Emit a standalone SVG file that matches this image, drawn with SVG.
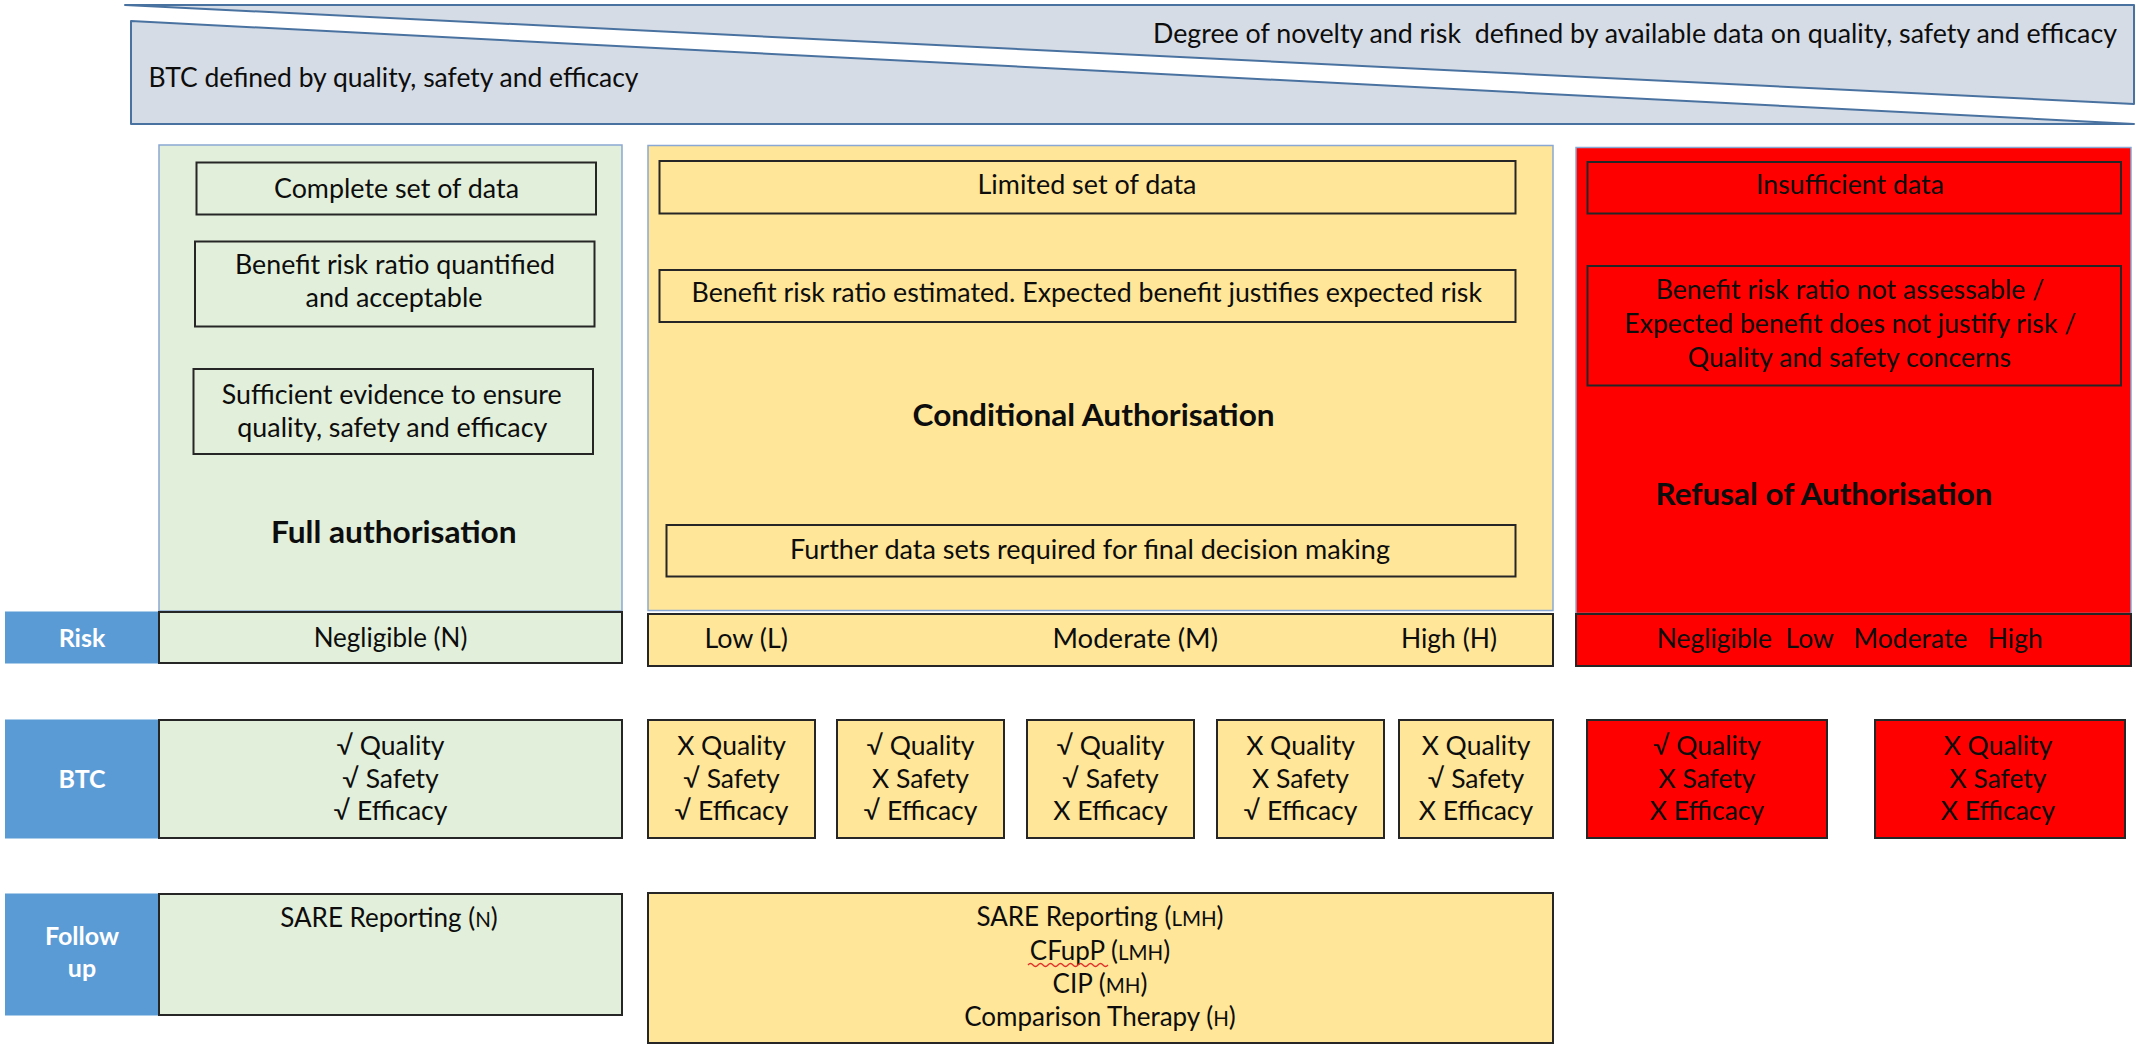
<svg xmlns="http://www.w3.org/2000/svg" width="2136" height="1044" viewBox="0 0 2136 1044">
  <style>
    .t { font-family: Lato, "Liberation Sans", sans-serif; font-size: 26px; fill: #0d0d0d; }
    .m { text-anchor: middle; }
    .b { font-weight: bold; font-size: 30px; }
    .q { font-size: 26.5px; text-anchor: middle; }
    .sc { font-size: 20.5px; }
    .lbl { font-family: Lato, "Liberation Sans", sans-serif; font-weight: bold; font-size: 25px; fill: #ffffff; text-anchor: middle; }
    .band { fill: #D6DCE5; stroke: #4A72A0; stroke-width: 2; stroke-linejoin: round; }
    .pg { fill: #E2EFDA; stroke: #8AA8D4; stroke-width: 1.5; }
    .py { fill: #FFE699; stroke: #8AA8D4; stroke-width: 1.5; }
    .pr { fill: #FF0000; stroke: #8AA8D4; stroke-width: 1.5; }
    .box { fill: none; stroke: #262626; stroke-width: 2; }
    .cg { fill: #E2EFDA; stroke: #262626; stroke-width: 2; }
    .cy { fill: #FFE699; stroke: #262626; stroke-width: 2; }
    .cr { fill: #FF0000; stroke: #262626; stroke-width: 2; }
    .lb { fill: #5B9BD5; stroke: #5B9BD5; stroke-width: 1; }
  </style>

  <!-- header wedges -->
  <g id="header">
    <path class="band" d="M125,5 L2134,5 L2134,104 Z"/>
    <path class="band" d="M131,21 L2134,124 L131,124 Z"/>
    <text class="t" x="1153" y="43" textLength="964" lengthAdjust="spacingAndGlyphs" xml:space="preserve">Degree of novelty and risk  defined by available data on quality, safety and efficacy</text>
    <text class="t" x="148.5" y="87" textLength="490" lengthAdjust="spacingAndGlyphs">BTC defined by quality, safety and efficacy</text>
  </g>

  <!-- full authorisation column -->
  <g id="full-authorisation">
    <rect class="pg" x="159" y="145" width="463" height="466"/>
    <rect class="box" x="196.5" y="162.5" width="399.5" height="52"/>
    <text class="t m" x="396.5" y="198.3" textLength="245" lengthAdjust="spacingAndGlyphs">Complete set of data</text>
    <rect class="box" x="195" y="241.5" width="399.5" height="85"/>
    <text class="t m" x="395" y="274.3" textLength="320" lengthAdjust="spacingAndGlyphs">Benefit risk ratio quantified</text>
    <text class="t m" x="394" y="307" textLength="177" lengthAdjust="spacingAndGlyphs">and acceptable</text>
    <rect class="box" x="193.5" y="369" width="399.5" height="85"/>
    <text class="t m" x="391.7" y="404" textLength="340" lengthAdjust="spacingAndGlyphs">Sufficient evidence to ensure</text>
    <text class="t m" x="392.3" y="436.5" textLength="310" lengthAdjust="spacingAndGlyphs">quality, safety and efficacy</text>
    <text class="t m b" x="393.8" y="543.3" textLength="245.7" lengthAdjust="spacingAndGlyphs">Full authorisation</text>
  </g>

  <!-- conditional authorisation column -->
  <g id="conditional-authorisation">
    <rect class="py" x="648" y="145.5" width="905" height="465"/>
    <rect class="box" x="659.5" y="161" width="856" height="52.5"/>
    <text class="t m" x="1087" y="194.4" textLength="219" lengthAdjust="spacingAndGlyphs">Limited set of data</text>
    <rect class="box" x="659.5" y="270" width="856" height="52"/>
    <text class="t m" x="1086.8" y="302.2" textLength="790.5" lengthAdjust="spacingAndGlyphs">Benefit risk ratio estimated. Expected benefit justifies expected risk</text>
    <text class="t m b" x="1093.6" y="425.5" textLength="362" lengthAdjust="spacingAndGlyphs">Conditional Authorisation</text>
    <rect class="box" x="666.5" y="525" width="849" height="51.5"/>
    <text class="t m" x="1090" y="558.7" textLength="600" lengthAdjust="spacingAndGlyphs">Further data sets required for final decision making</text>
  </g>

  <!-- refusal column -->
  <g id="refusal-of-authorisation">
    <rect class="pr" x="1576" y="147.5" width="555" height="466"/>
    <rect class="box" x="1587.5" y="162" width="533.5" height="51.5"/>
    <text class="t m" x="1850" y="194.4" textLength="188" lengthAdjust="spacingAndGlyphs">Insufficient data</text>
    <rect class="box" x="1587.5" y="266" width="533.5" height="119.5"/>
    <text class="t m" x="1850" y="299.4" textLength="388.7" lengthAdjust="spacingAndGlyphs">Benefit risk ratio not assessable /</text>
    <text class="t m" x="1850.3" y="332.8" textLength="452" lengthAdjust="spacingAndGlyphs">Expected benefit does not justify risk /</text>
    <text class="t m" x="1849.5" y="366.5" textLength="323.3" lengthAdjust="spacingAndGlyphs">Quality and safety concerns</text>
    <text class="t m b" x="1824" y="505.3" textLength="337" lengthAdjust="spacingAndGlyphs">Refusal of Authorisation</text>
  </g>

  <!-- risk row -->
  <g id="risk-label">
    <rect class="lb" x="5.5" y="612" width="153.5" height="51"/>
    <text class="lbl" x="82" y="646.5">Risk</text>
  </g>
  <g id="risk-full">
    <rect class="cg" x="159" y="612" width="463" height="51"/>
    <text class="t m" x="390.5" y="646.5">Negligible (N)</text>
  </g>
  <g id="risk-conditional">
    <rect class="cy" x="648" y="614" width="905" height="52"/>
    <text class="t" x="704.5" y="647.5" textLength="83.5" lengthAdjust="spacingAndGlyphs">Low (L)</text>
    <text class="t" x="1052.5" y="647.5" textLength="165.5" lengthAdjust="spacingAndGlyphs">Moderate (M)</text>
    <text class="t" x="1401" y="647.5" textLength="96" lengthAdjust="spacingAndGlyphs">High (H)</text>
  </g>
  <g id="risk-refusal">
    <rect class="cr" x="1576" y="614" width="555" height="52"/>
    <text class="t" x="1656.7" y="648" textLength="386" lengthAdjust="spacingAndGlyphs" xml:space="preserve">Negligible  Low   Moderate   High</text>
  </g>

  <!-- BTC row -->
  <g id="btc-label">
    <rect class="lb" x="5.5" y="720" width="153.5" height="118"/>
    <text class="lbl" x="82" y="787.5">BTC</text>
  </g>
  <g id="btc-full">
    <rect class="cg" x="159" y="720" width="463" height="118"/>
    <text class="t q" x="390.5" y="754.5">√ Quality</text>
    <text class="t q" x="390.5" y="787.5">√ Safety</text>
    <text class="t q" x="390.5" y="820">√ Efficacy</text>
  </g>
  <g id="btc-conditional-1">
    <rect class="cy" x="648" y="720" width="167" height="118"/>
    <text class="t q" x="731.5" y="754.5">X Quality</text>
    <text class="t q" x="731.5" y="787.5">√ Safety</text>
    <text class="t q" x="731.5" y="820">√ Efficacy</text>
  </g>
  <g id="btc-conditional-2">
    <rect class="cy" x="837" y="720" width="167" height="118"/>
    <text class="t q" x="920.5" y="754.5">√ Quality</text>
    <text class="t q" x="920.5" y="787.5">X Safety</text>
    <text class="t q" x="920.5" y="820">√ Efficacy</text>
  </g>
  <g id="btc-conditional-3">
    <rect class="cy" x="1027" y="720" width="167" height="118"/>
    <text class="t q" x="1110.5" y="754.5">√ Quality</text>
    <text class="t q" x="1110.5" y="787.5">√ Safety</text>
    <text class="t q" x="1110.5" y="820">X Efficacy</text>
  </g>
  <g id="btc-conditional-4">
    <rect class="cy" x="1217" y="720" width="167" height="118"/>
    <text class="t q" x="1300.5" y="754.5">X Quality</text>
    <text class="t q" x="1300.5" y="787.5">X Safety</text>
    <text class="t q" x="1300.5" y="820">√ Efficacy</text>
  </g>
  <g id="btc-conditional-5">
    <rect class="cy" x="1399" y="720" width="154" height="118"/>
    <text class="t q" x="1476" y="754.5">X Quality</text>
    <text class="t q" x="1476" y="787.5">√ Safety</text>
    <text class="t q" x="1476" y="820">X Efficacy</text>
  </g>
  <g id="btc-refusal-1">
    <rect class="cr" x="1587" y="720" width="240" height="118"/>
    <text class="t q" x="1707" y="754.5">√ Quality</text>
    <text class="t q" x="1707" y="787.5">X Safety</text>
    <text class="t q" x="1707" y="820">X Efficacy</text>
  </g>
  <g id="btc-refusal-2">
    <rect class="cr" x="1875" y="720" width="250" height="118"/>
    <text class="t q" x="1998" y="754.5">X Quality</text>
    <text class="t q" x="1998" y="787.5">X Safety</text>
    <text class="t q" x="1998" y="820">X Efficacy</text>
  </g>

  <!-- follow-up row -->
  <g id="followup-label">
    <rect class="lb" x="5.5" y="894" width="153.5" height="121"/>
    <text class="lbl" x="82" y="945">Follow</text>
    <text class="lbl" x="82" y="977">up</text>
  </g>
  <g id="followup-full">
    <rect class="cg" x="159" y="894" width="463" height="121"/>
    <text class="t m" x="389" y="927">SARE Reporting (<tspan class="sc">N</tspan>)</text>
  </g>
  <g id="followup-conditional">
    <rect class="cy" x="648" y="893" width="905" height="150"/>
    <text class="t m" x="1100" y="926">SARE Reporting (<tspan class="sc">LMH</tspan>)</text>
    <text class="t m" x="1100" y="959.5">CFupP (<tspan class="sc">LMH</tspan>)</text>
    <path d="M1028,965 q2.5,-3 5,0 t5,0 t5,0 t5,0 t5,0 t5,0 t5,0 t5,0 t5,0 t5,0 t5,0 t5,0 t5,0 t5,0 t5,0 t5,0" fill="none" stroke="#E0302A" stroke-width="1.3"/>
    <text class="t m" x="1100" y="993">CIP (<tspan class="sc">MH</tspan>)</text>
    <text class="t m" x="1100" y="1026">Comparison Therapy (<tspan class="sc">H</tspan>)</text>
  </g>
</svg>
